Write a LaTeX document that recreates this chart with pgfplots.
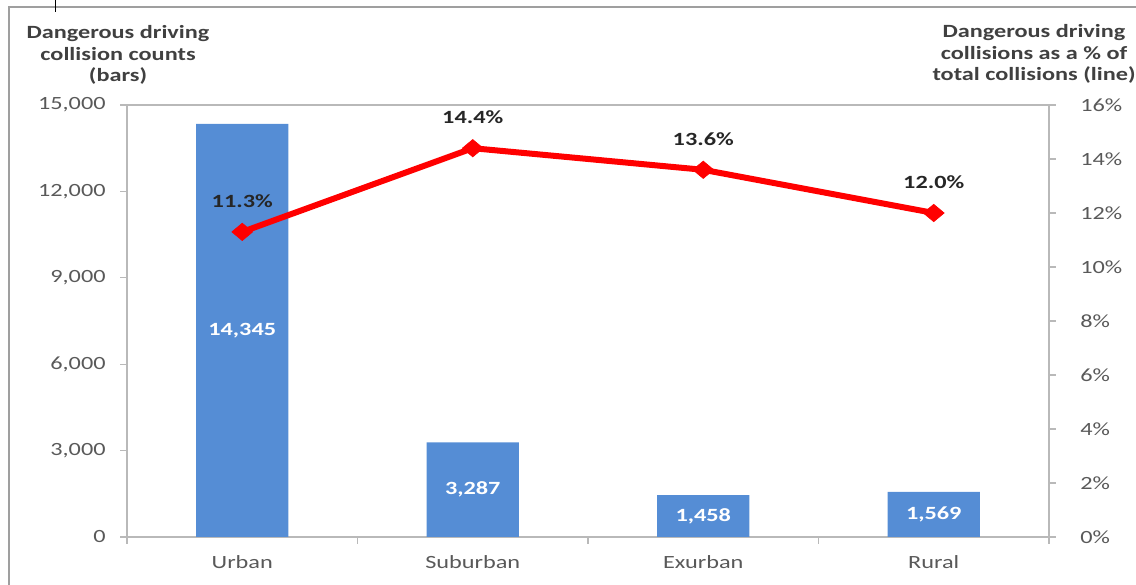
\documentclass[border=0pt]{standalone}
\usepackage{fontspec}
\setmainfont[FakeStretch=1.3]{Carlito}
\usepackage{pgfplots}
\pgfplotsset{compat=1.18}
\definecolor{barblue}{RGB}{85,141,213}
\definecolor{axgray}{RGB}{185,185,185}
\definecolor{ticktext}{RGB}{89,89,89}
\definecolor{titletext}{RGB}{64,64,64}
\begin{document}
\begin{tikzpicture}[x=1pt,y=1pt]
\useasboundingbox (0,0) rectangle (852,438.75);
\draw[gray!75, line width=1.5pt] (6.75,0) -- (6.75,433.5) -- (852,433.5);
\draw[black, line width=1.2pt] (41.5,438.75) -- (41.5,429.5);
\node[align=center, font=\bfseries\fontsize{14}{16}\selectfont, text=titletext] at (88.5,397.5) {Dangerous driving\\collision counts\\(bars)};
\node[align=center, font=\bfseries\fontsize{14}{16}\selectfont, text=titletext] at (775.5,398.25) {Dangerous driving\\collisions as a \% of\\total collisions (line)};
\begin{axis}[
  at={(95.25pt,36pt)}, anchor=south west, scale only axis,
  width=691.5pt, height=324pt,
  xmin=-0.5, xmax=3.5, ymin=0, ymax=15000,
  xtick={-0.5,0.5,1.5,2.5,3.5}, x tick label as interval,
  xticklabels={Urban,Suburban,Exurban,Rural},
  ytick={0,3000,6000,9000,12000,15000},
  scaled y ticks=false,
  /pgf/number format/.cd, 1000 sep={,}, assume math mode=true, /pgfplots/.cd,
  xtick pos=bottom, ytick pos=left,
  tick align=outside, major tick length=5pt,
  axis line style={axgray, line width=0.8pt},
  tick style={axgray, line width=0.8pt},
  tick label style={font=\fontsize{14}{16}\selectfont, text=ticktext},
  yticklabel style={xshift=-7.5pt},
  xticklabel style={yshift=-5.5pt},
]
\addplot[ybar, bar width=0.4, fill=barblue, draw=none] coordinates {(0,14345) (1,3287) (2,1458) (3,1569)};
\addplot[draw=none, nodes near coords, point meta=explicit symbolic,
  nodes near coords style={font=\bfseries\fontsize{14}{16}\selectfont, text=white, anchor=center}]
  table[meta=lab] {
x y lab
0 7172.5 {14,345}
1 1643.5 {3,287}
2 729 {1,458}
3 784.5 {1,569}
};
\end{axis}
\begin{axis}[
  at={(95.25pt,36pt)}, anchor=south west, scale only axis,
  width=691.5pt, height=324pt,
  xmin=-0.5, xmax=3.5, ymin=0, ymax=16,
  axis y line*=right, axis x line=none,
  ytick={0,2,...,16},
  yticklabel={\pgfmathprintnumber{\tick}\%},
  /pgf/number format/assume math mode=true,
  tick align=outside, major tick length=5pt,
  axis line style={axgray, line width=0.8pt},
  tick style={axgray, line width=0.8pt},
  tick label style={font=\fontsize{14}{16}\selectfont, text=ticktext},
  yticklabel style={xshift=15pt},
]
\addplot[red, line width=4.5pt, mark=diamond*, mark size=6.5pt,
  mark options={solid, xscale=1.6, line width=0.5pt},
  nodes near coords, point meta=explicit symbolic,
  nodes near coords style={font=\bfseries\fontsize{14}{16}\selectfont, text=black!85, anchor=center, yshift=23pt}]
  table[meta=lab] {
x y lab
0 11.3 11.3\%
1 14.4 14.4\%
2 13.6 13.6\%
3 12.0 12.0\%
};
\end{axis}
\end{tikzpicture}
\end{document}
